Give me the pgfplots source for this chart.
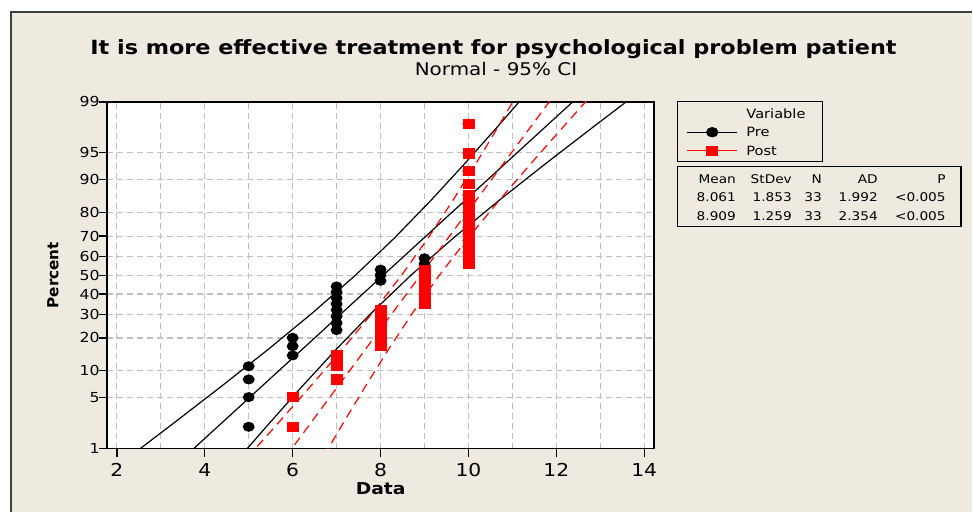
\documentclass[border=0pt]{standalone}
\usepackage{pgfplots}
\pgfplotsset{compat=1.18}
\usepackage{fontspec}
\setmainfont{DejaVu Sans}[FakeStretch=1.14]
\newfontfamily\pctfont{DejaVu Sans}
\definecolor{bg}{RGB}{238,234,224}
\definecolor{framec}{RGB}{64,64,64}
\definecolor{gridc}{RGB}{192,192,192}
\begin{document}
\begin{tikzpicture}[x=0.5pt,y=0.5pt]
\fill[white] (0,0) rectangle (973,513);
\fill[bg] (11,0) rectangle (973,501);
\draw[framec, line width=1pt] (11,0) -- (11,501) -- (973,501);
\node[anchor=base, inner sep=0pt, font=\bfseries\fontsize{9.8}{11}\selectfont] at (494,458) {It is more effective treatment for psychological problem patient};
\node[anchor=base, inner sep=0pt, font=\fontsize{8.75}{10}\selectfont] at (496.5,437) {Normal - 95\% CI};
\begin{axis}[
  at={(53.5pt,32pt)}, anchor=south west,
  scale only axis, width=274pt, height=173.5pt,
  xmin=1.773, xmax=14.23, ymin=-2.32635, ymax=2.32635,
  axis background/.style={fill=white},
  axis line style={black, line width=0.9pt},
  xtick={2,4,...,14}, minor xtick={3,5,...,13},
  ytick={-2.3263,-1.6449,-1.2816,-0.8416,-0.5244,-0.2533,0,0.2533,0.5244,0.8416,1.2816,1.6449,2.3263},
  yticklabels={1,5,10,20,30,40,50,60,70,80,90,95,99},
  tick align=outside, xtick pos=bottom, ytick pos=left,
  major tick length=4pt, minor tick length=0pt,
  grid=both,
  major grid style={gridc, dash pattern=on 3pt off 2pt, line width=0.6pt},
  minor grid style={gridc, dash pattern=on 3pt off 2pt, line width=0.6pt},
  tick style={black, line width=0.7pt},
  /pgf/number format/assume math mode=true,
  xticklabel style={font=\fontsize{8.9}{10}\selectfont},
  yticklabel style={font=\fontsize{6.9}{8}\selectfont, inner sep=0.6pt, xshift=1.2pt},
  xlabel={Data},
  xlabel style={font=\bfseries\fontsize{8.2}{9}\selectfont, at={(axis description cs:0.5,-0.115)}, anchor=center},
  ylabel={\pctfont\bfseries Percent},
  ylabel style={font=\fontsize{7.6}{9}\selectfont, at={(axis description cs:-0.0985,0.5)}, anchor=center},
  legend style={at={(axis description cs:1.0584,0.994)}, anchor=north west, draw=none, fill=none,
    font=\fontsize{6.4}{7.7}\selectfont, row sep=0pt, inner sep=0pt,
    nodes={inner sep=0.5pt, text height=6.4pt, text depth=1.9pt},
    /tikz/every odd column/.append style={column sep=3.8pt}},
  legend cell align=left,
  legend image code/.code={\draw[mark repeat=2,mark phase=2,#1] plot coordinates {(0pt,0pt) (12.5pt,0pt) (25pt,0pt)};},
]
% Pre: fitted line and 95% CI
\addplot[black, line width=0.6pt, forget plot] coordinates {(3.2432,-2.6) (12.8788,2.6)};
\addplot[black, line width=0.6pt, forget plot] coordinates {(1.9200,-2.6) (2.3684,-2.4) (3.2599,-2.0) (4.3599,-1.5) (5.4337,-1.0) (6.4639,-0.5) (7.4288,0) (8.3169,0.5) (9.1397,1.0) (9.9189,1.5) (10.6719,2.0) (11.2628,2.4) (11.5556,2.6)};
\addplot[black, line width=0.6pt, forget plot] coordinates {(4.5664,-2.6) (4.8592,-2.4) (5.4501,-2.0) (6.2031,-1.5) (6.9823,-1.0) (7.8051,-0.5) (8.6932,0) (9.6581,0.5) (10.6883,1.0) (11.7621,1.5) (12.8621,2.0) (13.7536,2.4) (14.2020,2.6)};
% Post: fitted line and 95% CI
\addplot[red, line width=0.6pt, dash pattern=on 4.5pt off 3pt, forget plot] coordinates {(5.6356,-2.6) (12.1824,2.6)};
\addplot[red, line width=0.6pt, dash pattern=on 4.5pt off 3pt, forget plot] coordinates {(4.7366,-2.6) (5.0413,-2.4) (5.647,-2.0) (6.3943,-1.5) (7.1239,-1.0) (7.8239,-0.5) (8.4794,0) (9.0829,0.5) (9.6419,1.0) (10.1713,1.5) (10.683,2.0) (11.0845,2.4) (11.2834,2.6)};
\addplot[red, line width=0.6pt, dash pattern=on 4.5pt off 3pt, forget plot] coordinates {(6.5346,-2.6) (6.7335,-2.4) (7.135,-2.0) (7.6467,-1.5) (8.1761,-1.0) (8.7351,-0.5) (9.3386,0) (9.9941,0.5) (10.6941,1.0) (11.4237,1.5) (12.171,2.0) (12.7767,2.4) (13.0814,2.6)};
% Pre data
\addplot[only marks, mark=*, mark size=2.3pt, mark options={xscale=1.2, fill=black, draw=black}, forget plot] coordinates {
(5,-2.034) (5,-1.636) (5,-1.399) (5,-1.222)
(6,-1.077) (6,-0.952) (6,-0.840)
(7,-0.737) (7,-0.642) (7,-0.552) (7,-0.467) (7,-0.385) (7,-0.305) (7,-0.227) (7,-0.151)
(8,-0.075) (8,0) (8,0.075)
(9,0.151) (9,0.227)
(10,0.305) (10,0.385) (10,0.467) (10,0.552) (10,0.642) (10,0.737) (10,0.840) (10,0.952) (10,1.077) (10,1.222) (10,1.399) (10,1.636) (10,2.034)};
% Post data
\addplot[only marks, mark=square*, mark size=2.3pt, mark options={xscale=1.2, fill=red, draw=red}, forget plot] coordinates {
(6,-2.034) (6,-1.636)
(7,-1.399) (7,-1.222) (7,-1.077)
(8,-0.952) (8,-0.840) (8,-0.737) (8,-0.642) (8,-0.552) (8,-0.467)
(9,-0.385) (9,-0.305) (9,-0.227) (9,-0.151) (9,-0.075) (9,0) (9,0.075)
(10,0.151) (10,0.227) (10,0.305) (10,0.385) (10,0.467) (10,0.552) (10,0.642) (10,0.737) (10,0.840) (10,0.952) (10,1.077) (10,1.222) (10,1.399) (10,1.636) (10,2.034)};
\addlegendimage{empty legend}
\addlegendentry{Variable}
\addlegendimage{black, line width=0.6pt, mark=*, mark size=2.3pt, mark options={xscale=1.2, fill=black}}
\addlegendentry{Pre}
\addlegendimage{red, line width=0.6pt, mark=square*, mark size=2.3pt, mark options={xscale=1.2, fill=red}}
\addlegendentry{Post}
\end{axis}
% legend frame
\draw[black, line width=0.6pt] (678,411) rectangle (823,351);
% statistics box
\draw[black, line width=0.6pt] (678,346) rectangle (962,286);
\begin{scope}[every node/.style={anchor=base east, inner sep=0pt, font=\fontsize{6}{7}\selectfont}]
\node at (737,329.6) {Mean};  \node at (793,329.6) {StDev}; \node at (823,329.6) {N}; \node at (879,329.6) {AD}; \node at (947,329.6) {P};
\node at (737,311.6) {8.061}; \node at (793,311.6) {1.853}; \node at (823,311.6) {33}; \node at (879,311.6) {1.992}; \node at (947,311.6) {<0.005};
\node at (737,292.6) {8.909}; \node at (793,292.6) {1.259}; \node at (823,292.6) {33}; \node at (879,292.6) {2.354}; \node at (947,292.6) {<0.005};
\end{scope}
\end{tikzpicture}
\end{document}
